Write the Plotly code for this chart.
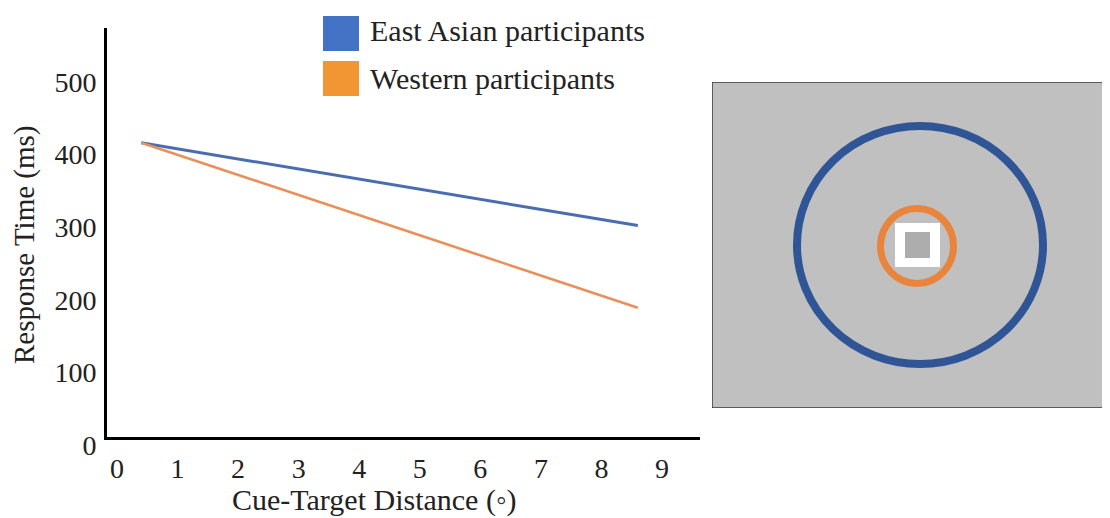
import plotly.graph_objects as go

# ---- data ----
series_names = ["East Asian participants", "Western participants"]
distance = [0.4, 8.6]
east_asian_rt = [405, 291]
western_rt = [405, 178]
x_ticks = [0, 1, 2, 3, 4, 5, 6, 7, 8, 9]
y_ticks = [0, 100, 200, 300, 400, 500]
x_title = "Cue-Target Distance (◦)"
y_title = "Response Time (ms)"

FONT = "Liberation Serif, Times New Roman, serif"
line_colors = ["#4a6cb0", "#e9905a"]
swatch_colors = ["#4472c4", "#f29633"]

OFF = 8  # page body margin
W, H = 1110 - OFF, 518 - OFF
L, R, T, B = 107 - OFF, 2, 28 - OFF, 81
PW, PH = W - L - R, H - T - B


def px(x):
    return (x - OFF - L) / PW


def py(y):
    return (H - B - (y - OFF)) / PH


fig = go.Figure()
fig.add_trace(go.Scatter(x=distance, y=east_asian_rt, mode="lines", name=series_names[0],
                         line=dict(color=line_colors[0], width=3), showlegend=False))
fig.add_trace(go.Scatter(x=distance, y=western_rt, mode="lines", name=series_names[1],
                         line=dict(color=line_colors[1], width=2.6), showlegend=False))

fig.update_layout(
    width=W, height=H,
    margin=dict(l=L, r=R, t=T, b=B, pad=0),
    paper_bgcolor="white", plot_bgcolor="white",
    font=dict(family=FONT, size=28, color="#222"),
    xaxis=dict(domain=[0, px(700)], range=[-0.165, 9.627], tickvals=x_ticks,
               showgrid=False, zeroline=False, showline=True, linecolor="black", linewidth=3,
               ticks="", ticklabelstandoff=4, tickfont=dict(size=28, family=FONT, color="#222")),
    yaxis=dict(domain=[0, 1], range=[0, 563], tickvals=y_ticks,
               showgrid=False, zeroline=False, showline=True, linecolor="black", linewidth=3,
               ticks="", ticklabelstandoff=2, ticklabelshift=8,
               tickfont=dict(size=28, family=FONT, color="#222")),
    xaxis2=dict(domain=[px(712), 1.0], range=[0, 396], visible=False, anchor="y2", fixedrange=True),
    yaxis2=dict(domain=[py(408), py(82)], range=[0, 326], visible=False, anchor="x2", fixedrange=True),
)

shapes = []
# right panel: stimulus illustration
shapes.append(dict(type="rect", xref="x2", yref="y2", x0=0, x1=396, y0=0, y1=326,
                   fillcolor="#c0c0c0", line=dict(color="#3a3a3a", width=1.5)))
shapes.append(dict(type="circle", xref="x2", yref="y2", x0=85, x1=331, y0=44, y1=282,
                   line=dict(color="#2f5597", width=8)))
shapes.append(dict(type="circle", xref="x2", yref="y2", x0=168.5, x1=241.5, y0=124.5, y1=199.5,
                   line=dict(color="#e8843c", width=7)))
shapes.append(dict(type="rect", xref="x2", yref="y2", x0=183, x1=228, y0=141, y1=185,
                   fillcolor="white", line=dict(width=0)))
shapes.append(dict(type="rect", xref="x2", yref="y2", x0=193, x1=218, y0=150, y1=176,
                   fillcolor="#adadad", line=dict(width=0)))
# legend swatches
for i, (y0, y1) in enumerate([(16, 51), (61, 96)]):
    shapes.append(dict(type="rect", xref="paper", yref="paper", x0=px(323), x1=px(359),
                       y0=py(y1), y1=py(y0), fillcolor=swatch_colors[i], line=dict(width=0)))
fig.update_layout(shapes=shapes)

annotations = []
for i, yc in enumerate([31, 78]):
    annotations.append(dict(xref="paper", yref="paper", x=px(368), y=py(yc), xanchor="left",
                            yanchor="middle", text=series_names[i], showarrow=False,
                            font=dict(size=30, family=FONT, color="#222")))
annotations.append(dict(xref="paper", yref="paper", x=px(374), y=py(500), xanchor="center",
                        yanchor="middle", text=x_title, showarrow=False,
                        font=dict(size=30, family=FONT, color="#222")))
annotations.append(dict(xref="paper", yref="paper", x=px(24), y=py(245), xanchor="center",
                        yanchor="middle", text=y_title, textangle=-90, showarrow=False,
                        font=dict(size=29, family=FONT, color="#222")))
fig.update_layout(annotations=annotations)

fig.write_html("out.html")
